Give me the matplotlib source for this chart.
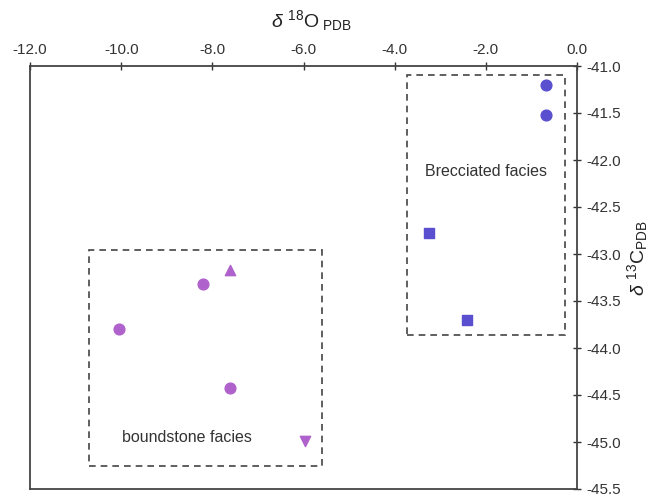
import matplotlib
matplotlib.use("Agg")
import matplotlib.pyplot as plt
from matplotlib.patches import Rectangle

plt.rcParams['font.family'] = ['Liberation Sans', 'DejaVu Sans']
plt.rcParams['mathtext.fontset'] = 'custom'
plt.rcParams['mathtext.rm'] = 'Liberation Sans'
plt.rcParams['mathtext.it'] = 'Liberation Sans:italic'

# brecciated facies (blue)
brec_circle_x = [-0.68, -0.68]
brec_circle_y = [-41.2, -41.52]
brec_square_x = [-3.25, -2.42]
brec_square_y = [-42.78, -43.7]

# boundstone facies (pink)
bound_circle_x = [-10.05, -8.2, -7.62]
bound_circle_y = [-43.8, -43.32, -44.43]
bound_up_x = [-7.62]
bound_up_y = [-43.17]
bound_down_x = [-5.97]
bound_down_y = [-44.99]

blue = '#5a4fcf'
pink = '#b062cc'

fig = plt.figure(figsize=(6.55, 5.0), dpi=100)
ax = fig.add_axes([0.046, 0.022, 0.835, 0.846])

ax.scatter(brec_circle_x, brec_circle_y, marker='o', s=60, color=blue, zorder=3)
ax.scatter(brec_square_x, brec_square_y, marker='s', s=45, color=blue, zorder=3)
ax.scatter(bound_circle_x, bound_circle_y, marker='o', s=60, color=pink, zorder=3)
ax.scatter(bound_up_x, bound_up_y, marker='^', s=55, color=pink, zorder=3)
ax.scatter(bound_down_x, bound_down_y, marker='v', s=55, color=pink, zorder=3)

# dashed boxes around facies
box1 = Rectangle((-3.74, -43.86), 3.48, 2.76, fill=False, edgecolor='#444444',
                 linestyle=(0, (4, 3)), linewidth=1.2)
box2 = Rectangle((-10.7, -45.26), 5.1, 2.3, fill=False, edgecolor='#444444',
                 linestyle=(0, (4, 3)), linewidth=1.2)
ax.add_patch(box1)
ax.add_patch(box2)
ax.text(-2.0, -42.12, 'Brecciated facies', ha='center', va='center', fontsize=11.5, color='#333333')
ax.text(-8.55, -44.95, 'boundstone facies', ha='center', va='center', fontsize=11.5, color='#333333')

ax.set_xlim(-12.0, 0.0)
ax.set_ylim(-45.5, -41.0)
ax.set_xticks([-12, -10, -8, -6, -4, -2, 0])
ax.set_xticklabels(['-12.0', '-10.0', '-8.0', '-6.0', '-4.0', '-2.0', '0.0'])
ax.set_yticks([-41.0, -41.5, -42.0, -42.5, -43.0, -43.5, -44.0, -44.5, -45.0, -45.5])
ax.set_yticklabels(['-41.0', '-41.5', '-42.0', '-42.5', '-43.0', '-43.5', '-44.0', '-44.5', '-45.0', '-45.5'])
ax.xaxis.tick_top()
ax.yaxis.tick_right()
ax.tick_params(axis='both', labelsize=11, colors='#333333', direction='inout', length=6, width=1)
for sp in ax.spines.values():
    sp.set_linewidth(1.3)
    sp.set_color('#444444')

fig.text(0.475, 0.958, r'$\delta$ $^{18}$O$_{\rm\ PDB}$', ha='center', va='center', fontsize=14, color='#222222')
fig.text(0.973, 0.484, r'$\delta$ $^{13}$C$_{\rm PDB}$', ha='center', va='center', fontsize=14,
         rotation=90, color='#222222')

fig.savefig('out.png', dpi=100)
